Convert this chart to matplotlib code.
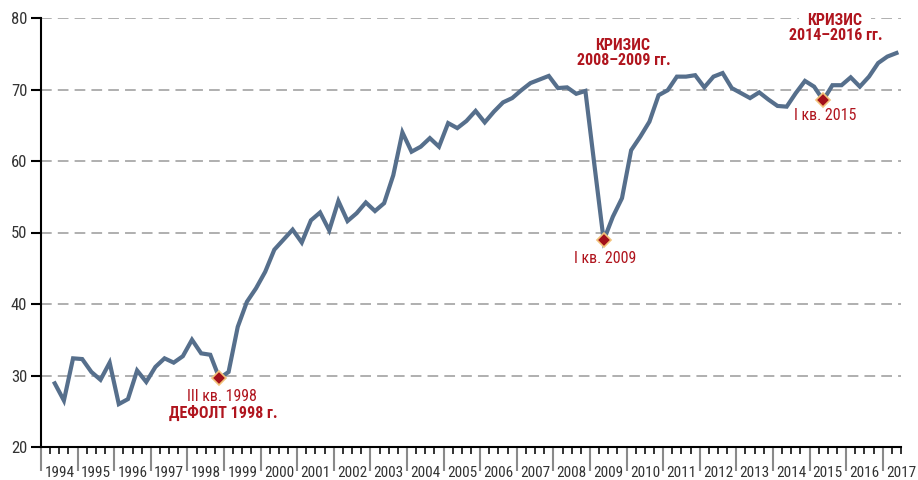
import numpy as np
import matplotlib
matplotlib.use("Agg")
import matplotlib.pyplot as plt
import matplotlib.transforms as mtransforms
from matplotlib import font_manager
from matplotlib.ticker import FixedLocator, NullFormatter

names = {f.name for f in font_manager.fontManager.ttflist}
narrow = [n for n in ["Liberation Sans Narrow", "Roboto Condensed", "Open Sans Condensed"] if n in names]
plt.rcParams["font.family"] = narrow + ["DejaVu Sans"]
plt.rcParams["font.stretch"] = "condensed"

# quarterly values, 1994 Q1 .. 2017 Q1
start_year = 1994
values = [
    28.9, 26.5, 32.4, 32.3,   # 1994
    30.5, 29.4, 31.8, 26.0,   # 1995
    26.7, 30.7, 29.1, 31.2,   # 1996
    32.4, 31.8, 32.7, 35.0,   # 1997
    33.1, 32.9, 29.6, 30.5,   # 1998
    36.8, 40.3, 42.2, 44.5,   # 1999
    47.6, 49.0, 50.4, 48.6,   # 2000
    51.7, 52.8, 50.3, 54.4,   # 2001
    51.6, 52.7, 54.2, 53.0,   # 2002
    54.1, 58.0, 64.0, 61.3,   # 2003
    62.0, 63.2, 62.0, 65.3,   # 2004
    64.6, 65.6, 67.0, 65.4,   # 2005
    66.9, 68.2, 68.8, 69.9,   # 2006
    70.9, 71.4, 71.9, 70.2,   # 2007
    70.3, 69.4, 69.8, 59.3,   # 2008
    48.9, 52.2, 54.8, 61.5,   # 2009
    63.4, 65.5, 69.2, 69.9,   # 2010
    71.8, 71.8, 72.0, 70.3,   # 2011
    71.8, 72.3, 70.2, 69.5,   # 2012
    68.8, 69.6, 68.6, 67.7,   # 2013
    67.6, 69.5, 71.2, 70.4,   # 2014
    68.5, 70.6, 70.6, 71.7,   # 2015
    70.4, 71.8, 73.7, 74.6,   # 2016
    75.1,                     # 2017
]
years = list(range(1994, 2018))
marked = [18, 60, 84]   # III кв. 1998, I кв. 2009, I кв. 2015

line_color = "#566f8c"
red = "#b0151e"

x = start_year + (np.arange(len(values)) + 1.5) / 4
y = np.array(values)

fig = plt.figure(figsize=(9.18, 4.8), dpi=100)
ax = fig.add_axes([0.0447, 0.06875, 0.9368, 0.89375])

for g in range(30, 90, 10):
    ax.axhline(g, color="#9a9a9a", lw=1.1, ls=(0, (7, 4)), zorder=1)

ax.plot(x, y, color=line_color, lw=3, solid_joinstyle="miter", zorder=3)
ax.plot(x[marked], y[marked], ls="none", marker="D", ms=7, mfc="#a3101a",
        mec="#f2c27a", mew=1.2, zorder=4)

ax.set_xlim(1994, 2017.5)
ax.set_ylim(20, 80)

for s in ["top", "right"]:
    ax.spines[s].set_visible(False)
ax.spines["left"].set_linewidth(1.5)
ax.spines["bottom"].set_linewidth(1.5)

ax.set_yticks(range(20, 90, 10))
ax.tick_params(axis="y", length=7, width=1.5, labelsize=12, labelcolor="#333333", pad=3)

ax.xaxis.set_major_locator(FixedLocator(years))
ax.xaxis.set_major_formatter(NullFormatter())
ax.xaxis.set_minor_locator(FixedLocator([yy + q / 4 for yy in years for q in (1, 2, 3)
                                         if yy + q / 4 <= 2017.5]))
ax.tick_params(axis="x", which="major", length=17, width=1.5, color="#8a8a8a")
ax.tick_params(axis="x", which="minor", length=5, width=1.3, color="#222222")

# year labels centred between the year ticks
shift = mtransforms.ScaledTranslation(0, -19 / 100, fig.dpi_scale_trans)
for yy in years:
    ax.text(yy + 0.5, 20, str(yy), transform=ax.transData + shift, ha="center", va="top",
            fontsize=11, color="#333333", clip_on=False)

ax.text(1998.95, 27.1, "III кв. 1998", color=red, fontsize=11.5, ha="center", va="center")
ax.text(1998.97, 24.75, "ДЕФОЛТ 1998 г.", color=red, fontsize=11.5, fontweight="bold",
        ha="center", va="center")
ax.text(2009.41, 46.4, "I кв. 2009", color=red, fontsize=11.5, ha="center", va="center")
ax.text(2009.9, 76.2, "КРИЗИС", color=red, fontsize=11.5, fontweight="bold",
        ha="center", va="center")
ax.text(2009.94, 74.0, "2008–2009 гг.", color=red, fontsize=11.5, fontweight="bold",
        ha="center", va="center")
ax.text(2015.69, 79.7, "КРИЗИС", color=red, fontsize=11.5, fontweight="bold",
        ha="center", va="center", zorder=5,
        bbox=dict(facecolor="white", edgecolor="none", pad=6))
ax.text(2015.72, 77.5, "2014–2016 гг.", color=red, fontsize=11.5, fontweight="bold",
        ha="center", va="center", zorder=5)
ax.text(2015.42, 66.3, "I кв. 2015", color=red, fontsize=11.5, ha="center", va="center")

fig.savefig("out.png", dpi=100)
